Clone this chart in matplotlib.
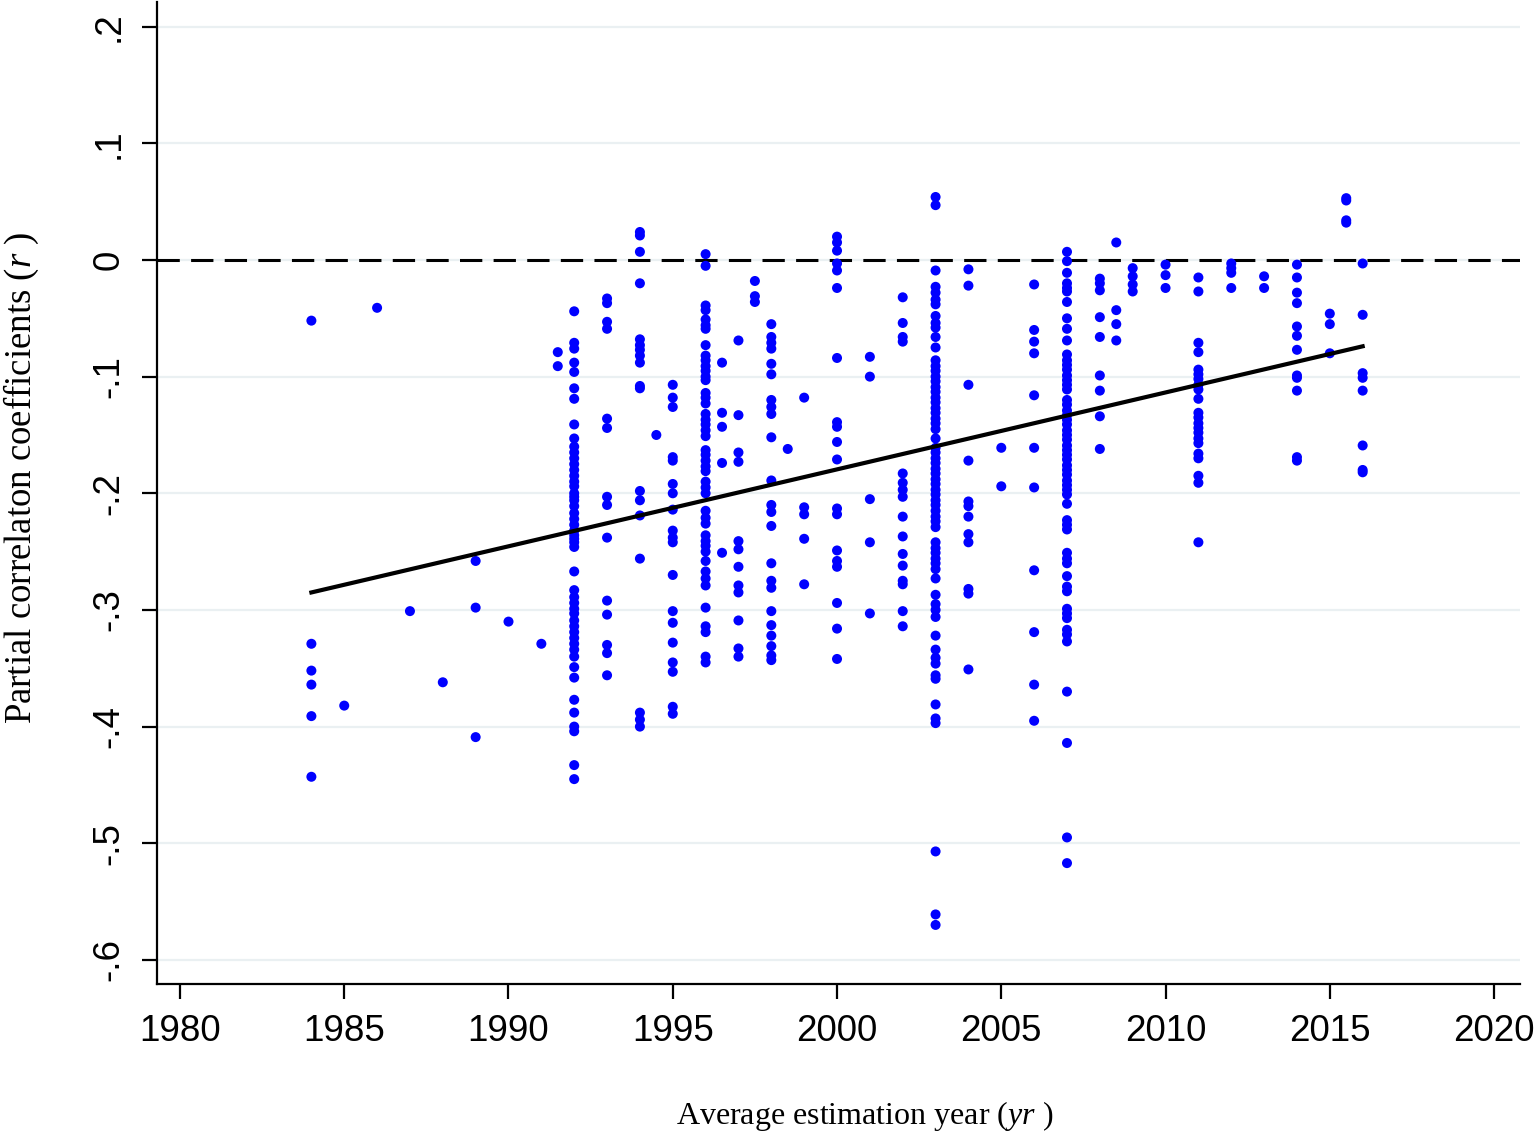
import numpy as np
import matplotlib
matplotlib.use("Agg")
import matplotlib.pyplot as plt

plt.rcParams['mathtext.fontset'] = 'custom'
plt.rcParams['mathtext.rm'] = 'Liberation Serif'
plt.rcParams['mathtext.it'] = 'Liberation Serif:italic'

# partial correlation coefficients, grouped by average estimation year
r_1984 = [-0.052, -0.329, -0.352, -0.364, -0.391, -0.443]
r_1985 = [-0.382]
r_1986 = [-0.041]
r_1987 = [-0.301]
r_1988 = [-0.362]
r_1989 = [-0.258, -0.298, -0.409]
r_1990 = [-0.310]
r_1991 = [-0.329]
r_1991_5 = [-0.079, -0.091]
r_1992 = [-0.044, -0.071, -0.076, -0.088, -0.096, -0.110, -0.119, -0.141, -0.153,
          -0.160, -0.165, -0.170, -0.175, -0.180, -0.185, -0.190, -0.194, -0.200,
          -0.203, -0.206, -0.211, -0.217, -0.222, -0.227, -0.232, -0.236, -0.239,
          -0.242, -0.246, -0.267, -0.283, -0.289, -0.294, -0.299, -0.303, -0.309,
          -0.314, -0.319, -0.324, -0.329, -0.334, -0.340, -0.349, -0.358, -0.377,
          -0.388, -0.400, -0.404, -0.433, -0.445]
r_1993 = [-0.033, -0.037, -0.053, -0.059, -0.136, -0.144, -0.203, -0.210, -0.238,
          -0.292, -0.304, -0.330, -0.337, -0.356]
r_1994 = [0.024, 0.021, 0.007, -0.020, -0.068, -0.073, -0.077, -0.082, -0.088,
          -0.108, -0.110, -0.198, -0.206, -0.219, -0.256, -0.388, -0.394, -0.400]
r_1994_5 = [-0.150]
r_1995 = [-0.107, -0.118, -0.126, -0.169, -0.172, -0.192, -0.200, -0.214, -0.232,
          -0.238, -0.242, -0.270, -0.301, -0.311, -0.328, -0.345, -0.353, -0.383,
          -0.389]
r_1996 = [0.005, -0.005, -0.039, -0.043, -0.051, -0.056, -0.059, -0.073, -0.082,
          -0.086, -0.091, -0.095, -0.100, -0.103, -0.114, -0.118, -0.123, -0.132,
          -0.137, -0.141, -0.146, -0.151, -0.163, -0.167, -0.172, -0.177, -0.181,
          -0.190, -0.195, -0.200, -0.215, -0.221, -0.226, -0.236, -0.241, -0.245,
          -0.250, -0.258, -0.267, -0.273, -0.279, -0.298, -0.314, -0.319, -0.340,
          -0.345]
r_1996_5 = [-0.088, -0.131, -0.143, -0.174, -0.251]
r_1997 = [-0.069, -0.133, -0.165, -0.173, -0.241, -0.248, -0.263, -0.279, -0.285,
          -0.309, -0.333, -0.340]
r_1997_5 = [-0.018, -0.031, -0.036]
r_1998 = [-0.055, -0.066, -0.071, -0.076, -0.089, -0.098, -0.120, -0.126, -0.132,
          -0.152, -0.189, -0.210, -0.216, -0.228, -0.260, -0.275, -0.281, -0.301,
          -0.313, -0.322, -0.331, -0.339, -0.343]
r_1998_5 = [-0.162]
r_1999 = [-0.118, -0.212, -0.218, -0.239, -0.278]
r_2000 = [0.020, 0.015, 0.008, -0.003, -0.009, -0.024, -0.084, -0.139, -0.143,
          -0.156, -0.171, -0.213, -0.218, -0.249, -0.258, -0.263, -0.294, -0.316,
          -0.342]
r_2001 = [-0.083, -0.100, -0.205, -0.242, -0.303]
r_2002 = [-0.032, -0.054, -0.066, -0.070, -0.183, -0.191, -0.197, -0.203, -0.220,
          -0.237, -0.252, -0.262, -0.275, -0.278, -0.301, -0.314]
r_2003 = [0.054, 0.047, -0.009, -0.023, -0.028, -0.034, -0.038, -0.048, -0.054,
          -0.058, -0.066, -0.075, -0.086, -0.091, -0.095, -0.100, -0.104, -0.109,
          -0.113, -0.118, -0.122, -0.127, -0.131, -0.136, -0.140, -0.145, -0.153,
          -0.161, -0.165, -0.170, -0.174, -0.179, -0.183, -0.188, -0.192, -0.197,
          -0.201, -0.206, -0.210, -0.215, -0.220, -0.224, -0.229, -0.242, -0.247,
          -0.251, -0.256, -0.260, -0.265, -0.273, -0.287, -0.295, -0.300, -0.306,
          -0.322, -0.334, -0.341, -0.346, -0.356, -0.359, -0.381, -0.393, -0.397,
          -0.507, -0.561, -0.570]
r_2004 = [-0.008, -0.022, -0.107, -0.172, -0.207, -0.211, -0.220, -0.235, -0.242,
          -0.282, -0.286, -0.351]
r_2005 = [-0.161, -0.194]
r_2006 = [-0.021, -0.060, -0.070, -0.080, -0.116, -0.161, -0.195, -0.266, -0.319,
          -0.364, -0.395]
r_2007 = [0.007, -0.001, -0.011, -0.020, -0.024, -0.027, -0.036, -0.050, -0.059,
          -0.069, -0.081, -0.086, -0.090, -0.094, -0.099, -0.103, -0.107, -0.111,
          -0.120, -0.124, -0.129, -0.133, -0.137, -0.141, -0.146, -0.150, -0.154,
          -0.159, -0.163, -0.167, -0.171, -0.176, -0.180, -0.184, -0.189, -0.193,
          -0.197, -0.201, -0.209, -0.223, -0.227, -0.231, -0.251, -0.256, -0.260,
          -0.271, -0.280, -0.284, -0.299, -0.303, -0.307, -0.317, -0.321, -0.327,
          -0.370, -0.414, -0.495, -0.517]
r_2008 = [-0.016, -0.020, -0.026, -0.049, -0.066, -0.099, -0.112, -0.134, -0.162]
r_2008_5 = [0.015, -0.043, -0.055, -0.069]
r_2009 = [-0.007, -0.014, -0.021, -0.027]
r_2010 = [-0.004, -0.013, -0.024]
r_2011 = [-0.015, -0.027, -0.071, -0.079, -0.094, -0.098, -0.102, -0.107, -0.111,
          -0.119, -0.131, -0.135, -0.140, -0.144, -0.148, -0.153, -0.157, -0.166,
          -0.170, -0.185, -0.191, -0.242]
r_2012 = [-0.003, -0.007, -0.011, -0.024]
r_2013 = [-0.014, -0.024]
r_2014 = [-0.004, -0.015, -0.028, -0.037, -0.057, -0.065, -0.077, -0.099, -0.101,
          -0.112, -0.169, -0.172]
r_2015 = [-0.046, -0.055, -0.080]
r_2015_5 = [0.053, 0.051, 0.034, 0.032]
r_2016 = [-0.003, -0.047, -0.097, -0.101, -0.112, -0.159, -0.180, -0.182]

groups = [(1984, r_1984), (1985, r_1985), (1986, r_1986), (1987, r_1987),
          (1988, r_1988), (1989, r_1989), (1990, r_1990), (1991, r_1991),
          (1991.5, r_1991_5), (1992, r_1992), (1993, r_1993), (1994, r_1994),
          (1994.5, r_1994_5), (1995, r_1995), (1996, r_1996), (1996.5, r_1996_5),
          (1997, r_1997), (1997.5, r_1997_5), (1998, r_1998), (1998.5, r_1998_5),
          (1999, r_1999), (2000, r_2000), (2001, r_2001), (2002, r_2002),
          (2003, r_2003), (2004, r_2004), (2005, r_2005), (2006, r_2006),
          (2007, r_2007), (2008, r_2008), (2008.5, r_2008_5), (2009, r_2009),
          (2010, r_2010), (2011, r_2011), (2012, r_2012), (2013, r_2013),
          (2014, r_2014), (2015, r_2015), (2015.5, r_2015_5), (2016, r_2016)]

# fitted line end points
fit_years = [1984, 2016]
fit_values = [-0.285, -0.074]

x_ticks = [1980, 1985, 1990, 1995, 2000, 2005, 2010, 2015, 2020]
y_ticks = [-0.6, -0.5, -0.4, -0.3, -0.2, -0.1, 0.0, 0.1, 0.2]
y_tick_labels = ['-.6', '-.5', '-.4', '-.3', '-.2', '-.1', '0', '.1', '.2']

xs = np.concatenate([[yr] * len(v) for yr, v in groups])
ys = np.concatenate([v for yr, v in groups])

fig = plt.figure(figsize=(15.36, 11.37), dpi=100)
ax = fig.add_axes([0.1022, 0.1346, 0.8874, 0.8636])

for t in y_ticks:
    ax.axhline(t, color='#eaf0f2', lw=1.6, zorder=0)
ax.axhline(0, color='black', lw=2.2, dashes=(7.3, 3.7), zorder=1)

ax.scatter(xs, ys, s=52, color='#0000ff', edgecolors='none', zorder=3)
ax.plot(fit_years, fit_values, color='black', lw=3, zorder=4)

ax.set_xlim(1979.3, 2020.79)
ax.set_ylim(-0.6206, 0.2211)
ax.set_xticks(x_ticks)
ax.set_yticks(y_ticks)
ax.set_yticklabels(y_tick_labels)

for s in ['top', 'right']:
    ax.spines[s].set_visible(False)
for s in ['left', 'bottom']:
    ax.spines[s].set_linewidth(1.6)

ax.tick_params(axis='both', length=10.8, width=1.6, pad=11, labelsize=26.5)
ax.tick_params(axis='y', labelrotation=90)
for lab in ax.get_xticklabels() + ax.get_yticklabels():
    lab.set_fontfamily('Liberation Sans')
for lab in ax.get_yticklabels():
    lab.set_va('center')

ax.set_xlabel('Average estimation year ($yr$ )', fontfamily='Liberation Serif', fontsize=23)
ax.set_ylabel('Partial correlaton coefficients ($r$ )', fontfamily='Liberation Serif', fontsize=26.5)
ax.xaxis.set_label_coords(0.519, -0.117)
ax.yaxis.set_label_coords(-0.085, 0.515)

fig.savefig('out.png', dpi=100)
